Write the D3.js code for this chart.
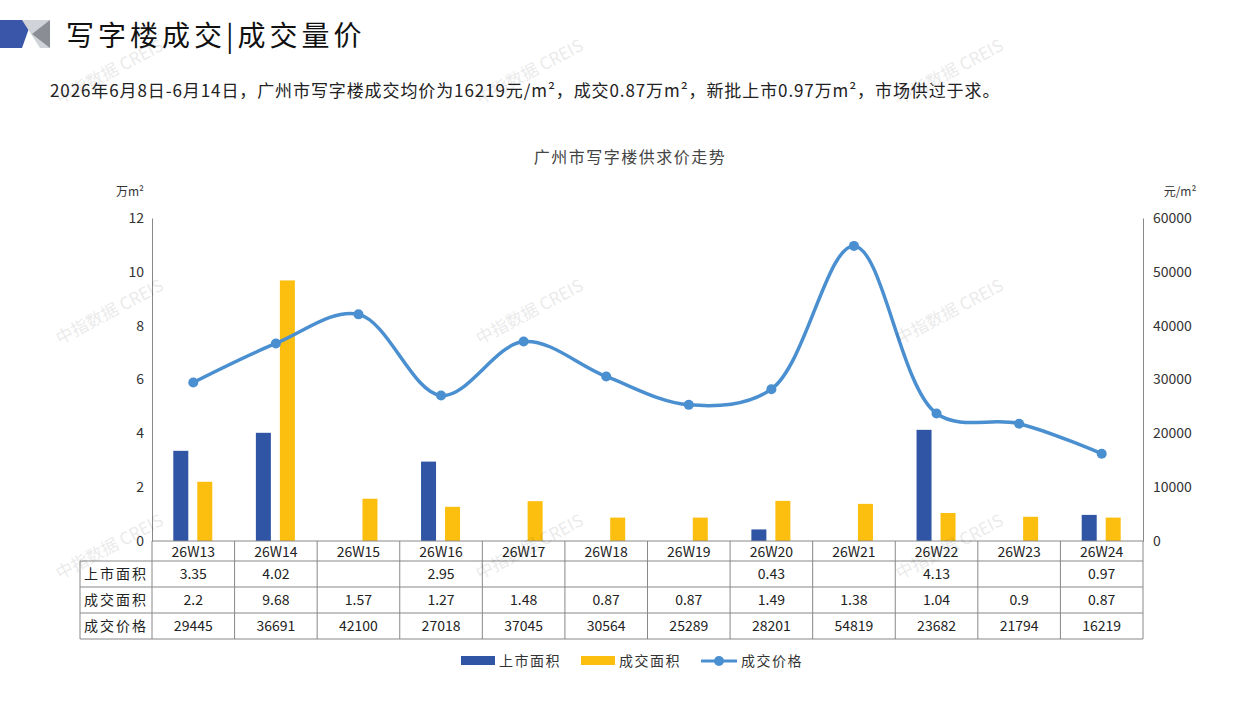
<!DOCTYPE html>
<html><head><meta charset="utf-8">
<script src="https://cdn.jsdelivr.net/npm/d3@7"></script>
<style>body{margin:0;background:#fff}text{font-family:"Noto Sans CJK SC",sans-serif}</style>
</head><body><svg id="c" width="1257" height="706"></svg>
<script>
var weeks = ["26W13","26W14","26W15","26W16","26W17","26W18","26W19","26W20","26W21","26W22","26W23","26W24"];
var supply = [3.35,4.02,null,2.95,null,null,null,0.43,null,4.13,null,0.97];
var deals = [2.2,9.68,1.57,1.27,1.48,0.87,0.87,1.49,1.38,1.04,0.9,0.87];
var prices = [29445,36691,42100,27018,37045,30564,25289,28201,54819,23682,21794,16219];
var leftTicks = [0,2,4,6,8,10,12];
var rightTicks = [0,10000,20000,30000,40000,50000,60000];
var rowLabels = ["上市面积","成交面积","成交价格"];
var blue = "#2f55a4", yellow = "#fdbf0f", lineBlue = "#4a8fd0";

var svg = d3.select("#c");
var L = 152, R = 1143, T = 218, B = 541;
var x = d3.scaleBand().domain(weeks).range([L, R]);
var y = d3.scaleLinear().domain([0,12]).range([B, T]);
var y2 = d3.scaleLinear().domain([0,60000]).range([B, T]);

// header
svg.append("polygon").attr("points","0,20 32,20 22,48 0,48").attr("fill","#3a56a8");
svg.append("polygon").attr("points","22,20 50,20 50,48 40,48").attr("fill","#d0d3d8");
svg.append("polygon").attr("points","32,34 50,20 50,48").attr("fill","#8a8e94");
svg.append("text").attr("x",66).attr("y",46).attr("font-size",28).attr("letter-spacing",4).attr("fill","#111").text("写字楼成交|成交量价");
svg.append("text").attr("x",50).attr("y",97).attr("font-size",17).attr("letter-spacing",0.9).attr("fill","#222")
  .text("2026年6月8日-6月14日，广州市写字楼成交均价为16219元/m²，成交0.87万m²，新批上市0.97万m²，市场供过于求。");
svg.append("text").attr("x",630).attr("y",163).attr("text-anchor","middle").attr("font-size",16).attr("letter-spacing",1.5).attr("fill","#444").text("广州市写字楼供求价走势");
svg.append("text").attr("x",130).attr("y",196).attr("text-anchor","middle").attr("font-size",12).attr("fill","#333").text("万m²");
svg.append("text").attr("x",1180).attr("y",196).attr("text-anchor","middle").attr("font-size",12).attr("fill","#333").text("元/m²");

// axes
var ga = svg.append("g").attr("transform","translate("+L+",0)")
  .call(d3.axisLeft(y).tickValues(leftTicks).tickSize(0).tickPadding(8));
ga.select(".domain").attr("stroke","#888");
var gb = svg.append("g").attr("transform","translate("+R+",0)")
  .call(d3.axisRight(y2).tickValues(rightTicks).tickFormat(d3.format("d")).tickSize(0).tickPadding(10));
gb.select(".domain").attr("stroke","#888");
svg.selectAll(".tick text").attr("font-size",14).attr("fill","#333");

// bars
var bw = 15;
svg.selectAll(".s").data(weeks.filter(function(d,i){return supply[i]!=null;})).enter().append("rect")
  .attr("x",function(d){return x(d)+x.bandwidth()/2-20;}).attr("width",bw)
  .attr("y",function(d){return y(supply[weeks.indexOf(d)]);})
  .attr("height",function(d){return B-y(supply[weeks.indexOf(d)]);}).attr("fill",blue);
svg.selectAll(".d").data(weeks).enter().append("rect")
  .attr("x",function(d){return x(d)+x.bandwidth()/2+4;}).attr("width",bw)
  .attr("y",function(d,i){return y(deals[i]);})
  .attr("height",function(d,i){return B-y(deals[i]);}).attr("fill",yellow);

// line
var cx = function(d,i){return x(weeks[i])+x.bandwidth()/2;};
svg.append("path").datum(prices).attr("fill","none").attr("stroke",lineBlue).attr("stroke-width",3.5)
  .attr("d",d3.line().x(cx).y(function(d){return y2(d);}).curve(d3.curveCatmullRom.alpha(0.5)));
svg.selectAll(".p").data(prices).enter().append("circle").attr("cx",cx).attr("cy",function(d){return y2(d);})
  .attr("r",5).attr("fill",lineBlue);

// table
var rowY = [541,561,587,613,639];
var tl = 80, tg = svg.append("g").attr("stroke","#888").attr("stroke-width",1);
tg.append("line").attr("x1",L).attr("x2",R).attr("y1",B).attr("y2",B);
for (var r=1;r<rowY.length;r++) tg.append("line").attr("x1",tl).attr("x2",R).attr("y1",rowY[r]).attr("y2",rowY[r]);
tg.append("line").attr("x1",tl).attr("x2",tl).attr("y1",rowY[1]).attr("y2",rowY[4]);
weeks.forEach(function(w){tg.append("line").attr("x1",x(w)).attr("x2",x(w)).attr("y1",B).attr("y2",rowY[4]);});
tg.append("line").attr("x1",R).attr("x2",R).attr("y1",B).attr("y2",rowY[4]);
var rows = [supply.map(function(v){return v==null?"":String(v);}), deals.map(String), prices.map(String)];
svg.selectAll(".wk").data(weeks).enter().append("text").attr("x",function(d){return x(d)+x.bandwidth()/2;})
  .attr("y",557).attr("text-anchor","middle").attr("font-size",14).attr("fill","#222").text(function(d){return d;});
rows.forEach(function(row,r){
  var cy = (rowY[r+1]+rowY[r+2])/2+5;
  svg.append("text").attr("x",(tl+L)/2).attr("y",cy).attr("text-anchor","middle").attr("font-size",14).attr("fill","#222").attr("letter-spacing",2).text(rowLabels[r]);
  row.forEach(function(v,i){
    svg.append("text").attr("x",x(weeks[i])+x.bandwidth()/2).attr("y",cy).attr("text-anchor","middle").attr("font-size",14).attr("fill","#222").text(v);
  });
});

// legend
var lg = svg.append("g").attr("font-size",14);
lg.append("rect").attr("x",461).attr("y",656).attr("width",34).attr("height",9).attr("fill",blue);
lg.append("text").attr("x",499).attr("y",666).attr("fill","#333").attr("letter-spacing",1.5).text("上市面积");
lg.append("rect").attr("x",581).attr("y",656).attr("width",34).attr("height",9).attr("fill",yellow);
lg.append("text").attr("x",619).attr("y",666).attr("fill","#333").attr("letter-spacing",1.5).text("成交面积");
lg.append("line").attr("x1",701).attr("x2",737).attr("y1",661).attr("y2",661).attr("stroke",lineBlue).attr("stroke-width",3);
lg.append("circle").attr("cx",719).attr("cy",661).attr("r",5).attr("fill",lineBlue);
lg.append("text").attr("x",741).attr("y",666).attr("fill","#333").attr("letter-spacing",1.5).text("成交价格");

// watermarks
[[60,105],[480,105],[900,105],[60,345],[480,345],[900,345],[60,580],[480,580],[900,580]].forEach(function(p){
  svg.append("text").attr("transform","translate("+p[0]+","+p[1]+") rotate(-28)").attr("font-size",17)
    .attr("fill","#000").attr("opacity",0.08).text("中指数据 CREIS");
});
</script></body></html>
